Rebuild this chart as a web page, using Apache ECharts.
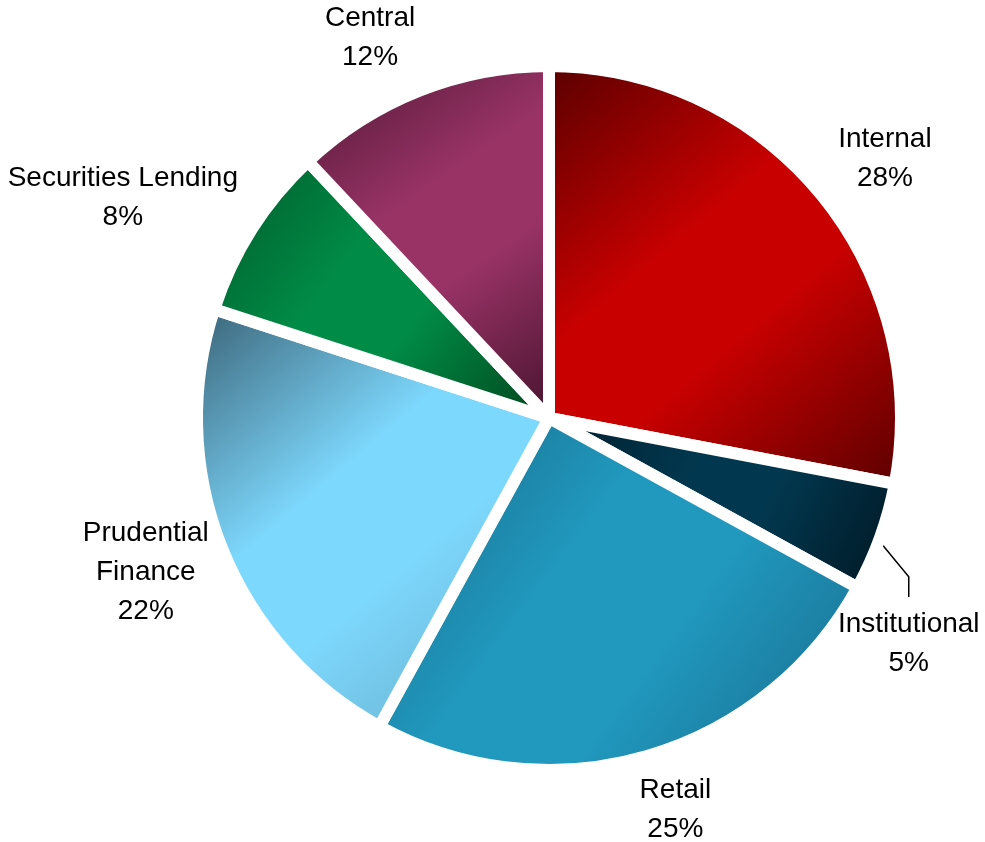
<!DOCTYPE html>
<html>
<head>
<meta charset="utf-8">
<script src="https://cdn.jsdelivr.net/npm/echarts@6/dist/echarts.min.js"></script>
<style>
  html, body { margin: 0; padding: 0; background: #ffffff; }
  #chart { width: 985px; height: 842px; }
</style>
</head>
<body>
<div id="chart"></div>
<script>
// Business-line split, clockwise from 12 o'clock
const categories = ['Internal', 'Institutional', 'Retail', 'Prudential\nFinance', 'Securities Lending', 'Central'];
const shares = [28, 5, 25, 22, 8, 12];

// Diagonal shading per slice: [top-left, middle, bottom-right]
const shades = [
  ['#560000', '#c80000', '#580000'],
  ['#001c2b', '#02384f', '#001520'],
  ['#166682', '#2199bf', '#18698a'],
  ['#385f72', '#7dd8fd', '#64a6c2'],
  ['#00572a', '#008c46', '#00411a'],
  ['#4a1632', '#993366', '#44122c']
];

// Pie geometry (pixels)
const CX = 549, CY = 418, R = 352, GAP = 12;
const LABEL_DIST = 410;
// Horizontal / vertical nudge of each label block from its anchor on the bisector
const labelShift = [[20, 2], [-26, 87], [12, -2], [-22, 3], [-80, -1], [-28, 1]];

const total = shares.reduce((a, b) => a + b, 0);
function midAngle(i) {
  let acc = 0;
  for (let k = 0; k < i; k++) acc += shares[k];
  return (acc + shares[i] / 2) / total * Math.PI * 2;
}

const seriesData = categories.map((name, i) => ({
  name: name,
  value: shares[i],
  itemStyle: {
    color: {
      type: 'linear', x: 0, y: 0, x2: 1, y2: 1,
      colorStops: [
        { offset: 0, color: shades[i][0] },
        { offset: 0.4, color: shades[i][1] },
        { offset: 0.6, color: shades[i][1] },
        { offset: 1, color: shades[i][2] }
      ]
    }
  },
  labelLine: { show: i === 1 }
}));

const chart = echarts.init(document.getElementById('chart'), null, { renderer: 'canvas' });
chart.setOption({
  animation: false,
  backgroundColor: '#ffffff',
  series: [{
    type: 'pie',
    center: [CX, CY],
    radius: R,
    startAngle: 90,
    clockwise: true,
    avoidLabelOverlap: false,
    silent: true,
    emphasis: { disabled: true },
    itemStyle: { borderColor: '#ffffff', borderWidth: GAP },
    label: {
      show: true,
      position: 'outside',
      formatter: '{b}\n{c}%',
      color: '#000000',
      fontFamily: "'Liberation Sans', Arial, sans-serif",
      fontSize: 28,
      lineHeight: 39,
      align: 'center'
    },
    labelLine: {
      show: false,
      smooth: false,
      lineStyle: { color: '#000000', width: 1.5 }
    },
    labelLayout: function (p) {
      const i = p.dataIndex;
      const a = midAngle(i);
      const dx = Math.sin(a), dy = -Math.cos(a);
      const x = CX + LABEL_DIST * dx + labelShift[i][0];
      const y = CY + LABEL_DIST * dy + labelShift[i][1];
      const out = { x: x, y: y, align: 'center', verticalAlign: 'middle' };
      if (i === 1) {
        const r0 = R - GAP / 2;
        out.labelLinePoints = [
          [CX + r0 * dx, CY + r0 * dy],
          [x, y - 67],
          [x, y - 47]
        ];
      }
      return out;
    },
    data: seriesData
  }]
});
</script>
</body>
</html>
